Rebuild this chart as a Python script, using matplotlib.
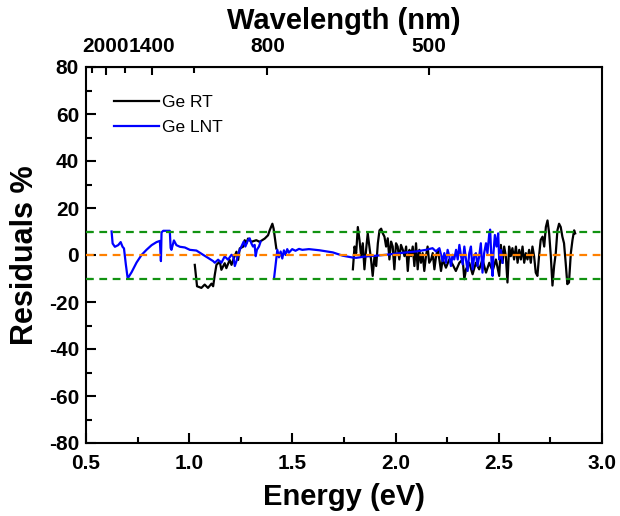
import numpy as np
import matplotlib
matplotlib.use('Agg')
import matplotlib.pyplot as plt
from matplotlib.ticker import MultipleLocator, FixedLocator, FormatStrFormatter

plt.rcParams['font.family'] = ['Liberation Sans', 'DejaVu Sans']
plt.rcParams['axes.unicode_minus'] = False

# Ge RT residuals, two measured ranges (eV, %)
rt1_e = [1.027, 1.038, 1.059, 1.075, 1.091, 1.108, 1.116, 1.124, 1.132, 1.148,
         1.156, 1.172, 1.180, 1.196, 1.205, 1.216, 1.229, 1.237, 1.245, 1.261,
         1.269, 1.277, 1.285, 1.301, 1.325, 1.341, 1.366, 1.382, 1.390, 1.403,
         1.409, 1.414, 1.422]
rt1_r = [-4.2, -13.3, -14.0, -12.6, -14.0, -12.2, -13.3, -8.4, -4.2, -2.8,
         -6.3, -3.5, -5.6, -2.1, -4.2, -1.4, 1.4, -2.1, 2.8, 3.5,
         6.3, 4.9, 7.0, 5.6, 6.3, 5.6, 7.0, 8.4, 10.5, 13.3,
         11.2, 8.0, 2.8]

rt2_e = [1.793, 1.801, 1.809, 1.817, 1.825, 1.833, 1.841, 1.849, 1.857, 1.865,
         1.873, 1.881, 1.889, 1.898, 1.906, 1.914, 1.922, 1.930, 1.938, 1.946,
         1.954, 1.962, 1.970, 1.978, 1.986, 1.994, 2.002, 2.010, 2.018, 2.026,
         2.035, 2.043, 2.051, 2.059, 2.067, 2.075, 2.083, 2.091, 2.099, 2.107,
         2.115, 2.123, 2.131, 2.139, 2.147, 2.155, 2.163, 2.172, 2.180, 2.188,
         2.196, 2.204, 2.212, 2.220, 2.228, 2.244, 2.260, 2.276, 2.292, 2.309,
         2.325, 2.333, 2.341, 2.357, 2.373, 2.389, 2.405, 2.421, 2.438, 2.454,
         2.470, 2.486, 2.502, 2.510, 2.518, 2.526, 2.534, 2.542, 2.550, 2.558,
         2.566, 2.574, 2.583, 2.591, 2.599, 2.607, 2.615, 2.623, 2.631, 2.639,
         2.647, 2.655, 2.663, 2.671, 2.679, 2.687, 2.695, 2.703, 2.712, 2.720,
         2.728, 2.736, 2.744, 2.752, 2.760, 2.768, 2.776, 2.784, 2.792, 2.800,
         2.808, 2.816, 2.824, 2.832, 2.840, 2.849, 2.857, 2.865, 2.870]
rt2_r = [-6.1, 3.6, 0.8, 11.9, 6.4, -0.5, 5.0, -6.1, 2.2, 9.2,
         3.6, -1.9, -8.9, -0.5, -4.7, 5.0, 10.5, 11.2, 9.2, 7.8,
         3.6, 7.1, -1.9, 5.7, 3.6, -6.1, 5.0, 3.6, -1.9, 4.3,
         2.2, -0.5, 3.6, -6.8, 2.2, -0.5, 3.6, -4.7, 5.0, -6.1,
         2.2, -3.3, 0.8, -6.8, -0.5, 3.6, -3.3, -1.9, 0.8, -6.1,
         -0.5, 2.2, -1.9, -6.8, -1.9, -5.4, -1.9, -4.0, -6.8, -3.3,
         -1.9, -10.3, -6.1, -3.3, -8.2, -3.3, -6.1, -1.9, -7.5, -3.3,
         -6.8, -1.9, -8.9, 4.3, -3.3, 3.6, -0.5, -11.7, 3.6, -0.5,
         2.9, -1.9, 3.6, -3.3, 2.2, -1.9, 3.6, -3.3, 0.8, -1.9,
         2.2, -3.3, 3.6, -0.5, -7.5, -8.9, -0.5, 6.4, 7.8, 3.6,
         11.9, 14.7, 9.2, -0.5, -13.0, -4.7, 0.8, 10.5, 13.3, 11.9,
         7.8, 5.0, -3.3, -12.4, -11.7, 0.8, 6.4, 10.5, 9.2]

# Ge LNT residuals, two measured ranges (eV, %)
lnt1_e = [0.624, 0.629, 0.640, 0.656, 0.668, 0.677, 0.684, 0.693, 0.702, 0.721,
          0.745, 0.769, 0.793, 0.818, 0.842, 0.858, 0.863, 0.866, 0.874, 0.906,
          0.910, 0.914, 0.926, 0.938, 0.955, 0.979, 1.003, 1.035, 1.067, 1.091,
          1.116, 1.124, 1.140, 1.156, 1.172, 1.188, 1.205, 1.213, 1.221, 1.229,
          1.241, 1.253, 1.264, 1.272, 1.285, 1.293, 1.301, 1.309, 1.317, 1.322,
          1.328, 1.338, 1.346]
lnt1_r = [10.0, 4.9, 3.5, 4.2, 5.5, 3.5, 2.8, -4.0, -10.0, -7.3,
          -3.2, 0.0, 2.2, 4.2, 5.5, 6.0, -2.6, 9.6, 10.3, 10.3,
          3.0, 2.2, 6.2, 4.2, 3.5, 3.2, 2.2, 1.9, 0.1, -1.2,
          -2.6, -3.3, -2.0, -3.3, -0.6, -2.0, 0.1, -0.5, -4.7, -2.6,
          1.5, 3.6, 5.7, 3.6, 6.4, 7.1, 5.0, 3.6, 4.3, -0.5,
          2.2, 3.6, 5.7]

lnt2_e = [1.411, 1.427, 1.435, 1.443, 1.451, 1.459, 1.467, 1.475, 1.483, 1.499,
          1.515, 1.532, 1.548, 1.580, 1.632, 1.696, 1.744, 1.793, 1.809, 1.857,
          1.906, 1.954, 2.002, 2.051, 2.099, 2.147, 2.179, 2.196, 2.212, 2.228,
          2.236, 2.244, 2.252, 2.260, 2.268, 2.276, 2.284, 2.293, 2.301, 2.309,
          2.317, 2.325, 2.333, 2.341, 2.349, 2.357, 2.365, 2.373, 2.381, 2.389,
          2.397, 2.405, 2.413, 2.421, 2.429, 2.438, 2.445, 2.454, 2.458, 2.465,
          2.470, 2.474, 2.481, 2.489, 2.497, 2.502, 2.510, 2.518]
lnt2_r = [-10.0, 2.2, -1.0, 1.5, -1.5, 2.0, 0.0, 2.5, 1.0, 2.5,
          1.8, 2.6, 2.2, 2.5, 2.0, 1.1, -0.3, -1.1, -1.2, -0.6,
          -0.3, 0.1, 0.6, 1.1, 1.5, 2.2, 2.9, 1.5, 2.9, -2.6,
          0.8, -3.3, 2.2, -0.5, -4.7, 0.1, -1.9, 2.2, -1.9, 4.3,
          -0.5, -4.0, 3.6, -1.9, -6.8, 0.8, 3.6, -6.1, -0.5, 0.8,
          -4.7, -0.5, 5.0, -7.5, 0.8, 5.0, 0.8, 9.2, 10.8, -3.3,
          -8.9, 0.8, 8.5, 3.6, 9.2, -1.9, 2.2, -3.3]

# top axis: wavelength ticks as drawn in the original
wl_major = [2000, 1400, 800, 500]
wl_minor = [2300, 1700, 1100]
K_NM, E_OFF = 1044.0, 0.074

fig = plt.figure(figsize=(6.2, 5.16), dpi=100)
ax = fig.add_axes([86/620, 1-443/516, 516/620, 376/516])

ax.plot(rt1_e, rt1_r, color='black', lw=1.6, label='Ge RT')
ax.plot(rt2_e, rt2_r, color='black', lw=1.6)
ax.plot(lnt1_e, lnt1_r, color='#0000ff', lw=1.6, label='Ge LNT')
ax.plot(lnt2_e, lnt2_r, color='#0000ff', lw=1.6)

ls = (0, (3.5, 2.5))
ax.axhline(10, color='#119211', lw=1.6, ls=ls, zorder=3)
ax.axhline(-10, color='#119211', lw=1.6, ls=ls, zorder=3)
ax.axhline(0, color='#ff8000', lw=1.6, ls=ls, zorder=3)

ax.set_xlim(0.5, 3.0)
ax.set_ylim(-80, 80)
ax.xaxis.set_major_locator(MultipleLocator(0.5))
ax.xaxis.set_minor_locator(MultipleLocator(0.25))
ax.yaxis.set_major_locator(MultipleLocator(20))
ax.yaxis.set_minor_locator(MultipleLocator(10))
ax.xaxis.set_major_formatter(FormatStrFormatter('%.1f'))
ax.tick_params(which='both', direction='in', top=False, right=False, width=1.5)
ax.tick_params(which='major', length=7, labelsize=15)
ax.tick_params(axis='x', which='major', pad=8)
ax.tick_params(axis='y', which='major', pad=5)
ax.tick_params(which='minor', length=4)
for lab in ax.get_xticklabels() + ax.get_yticklabels():
    lab.set_fontweight('bold')
for s in ax.spines.values():
    s.set_linewidth(1.5)

ax.set_xlabel('Energy (eV)', fontsize=21, fontweight='bold', labelpad=7)
ax.set_ylabel('Residuals %', fontsize=22, fontweight='bold', labelpad=6)


def e_to_wl(e):
    e = np.asarray(e, dtype=float)
    with np.errstate(divide='ignore', invalid='ignore'):
        return K_NM / (e - E_OFF)


def wl_to_e(w):
    w = np.asarray(w, dtype=float)
    with np.errstate(divide='ignore', invalid='ignore'):
        return K_NM / w + E_OFF


sec = ax.secondary_xaxis('top', functions=(e_to_wl, wl_to_e))
sec.xaxis.set_major_locator(FixedLocator(wl_major))
sec.xaxis.set_minor_locator(FixedLocator(wl_minor))
sec.xaxis.set_major_formatter(FormatStrFormatter('%d'))
sec.tick_params(which='both', direction='in', width=1.5)
sec.tick_params(which='major', length=6, labelsize=15, pad=8)
sec.tick_params(which='minor', length=4)
for lab in sec.get_xticklabels():
    lab.set_fontweight('bold')
sec.set_xlabel('Wavelength (nm)', fontsize=21, fontweight='bold', labelpad=6)

ax.legend(loc='upper left', frameon=False, fontsize=12.5, handlelength=2.6,
          handletextpad=0.15, labelspacing=0.6, borderaxespad=1.2,
          borderpad=0.4)

fig.savefig('out.png', dpi=100)
